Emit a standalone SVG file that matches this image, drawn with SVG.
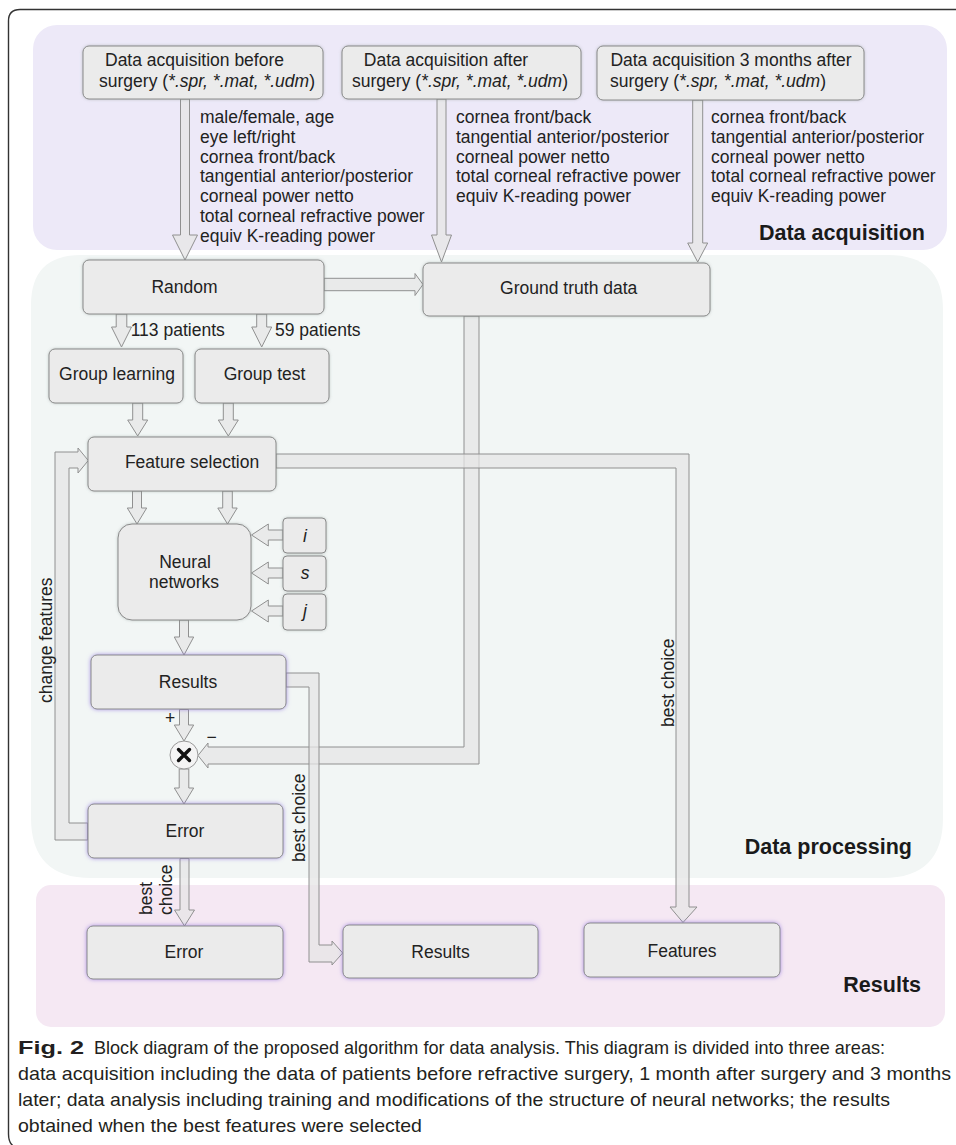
<svg xmlns="http://www.w3.org/2000/svg" width="956" height="1145" viewBox="0 0 956 1145">
<defs>
<style>
.t{font-family:"Liberation Sans",Arial,sans-serif;font-size:17.5px;fill:#222}
.c{text-anchor:middle}
.h{font-family:"Liberation Sans",Arial,sans-serif;font-weight:bold;font-size:21.5px;text-anchor:end;fill:#1a1a1a}
.box{fill:#ebebeb;stroke:#8a8a8a;stroke-width:1;filter:url(#sh)}
.gbox{fill:#ebebeb;stroke:#8a8a8a;stroke-width:1;filter:url(#glow)}
.arr{fill:#e6e6e6;fill-opacity:0.75;stroke:#909090;stroke-width:1;stroke-linejoin:miter}
.cap{font-family:"Liberation Sans Narrow","Liberation Sans",Arial,sans-serif;font-size:19px;fill:#231f20}
</style>
<filter id="sh" x="-10%" y="-20%" width="120%" height="140%">
<feDropShadow dx="0" dy="0" stdDeviation="1.5" flood-color="#7a8a88" flood-opacity="0.45"/>
</filter>
<filter id="glow" x="-10%" y="-20%" width="120%" height="140%">
<feDropShadow dx="0" dy="0" stdDeviation="2.2" flood-color="#8d6fdc" flood-opacity="0.75"/>
</filter>
</defs>
<rect width="956" height="1145" fill="#ffffff"/>
<path d="M956,9.5 H20 Q8.5,9.5 8.5,21 V1134 Q8.5,1144 15,1147" fill="none" stroke="#333" stroke-width="1.4"/>

<g id="areas">
<rect x="33" y="25" width="914" height="225" rx="24" fill="#ede9f8"/>
<path d="M81,255 H888 Q943,255 943,310 V818 Q943,878 883,878 H91 Q31,878 31,818 V305 Q31,255 81,255 Z" fill="#f2f6f5"/>
<rect x="36" y="885" width="909" height="142" rx="15" fill="#f5e8f3"/>
<text class="h" x="925" y="240">Data acquisition</text>
<text class="h" x="912" y="854">Data processing</text>
<text class="h" x="921" y="992">Results</text>
</g>

<g id="connectors">
<path class="arr" d="M180.5,99 V235 H172.5 L185,260 L197.5,235 H189.5 V99 Z"/>
<path class="arr" d="M437,99 V235 H431.5 L441.5,262 L451.5,235 H446 V99 Z"/>
<path class="arr" d="M692.7,100 V243 H687.7 L697.7,262 L707.7,243 H702.7 V100 Z"/>
<path class="arr" d="M324,278.3 H415 V273.5 L423,284.5 L415,295.5 V290.7 H324 Z"/>
<path class="arr" d="M116.2,314 V327 H111.5 L121.5,347 L131.5,327 H126.8 V314 Z"/>
<path class="arr" d="M256.7,314 V327 H251.7 L261.7,347 L271.7,327 H266.7 V314 Z"/>
<path class="arr" d="M132.7,403 V420 H127.7 L137.7,436 L147.7,420 H142.7 V403 Z"/>
<path class="arr" d="M223.3,403 V420 H218.3 L228.3,436 L238.3,420 H233.3 V403 Z"/>
<path class="arr" d="M132.5,491 V508 H127.3 L137,524 L146.7,508 H141.5 V491 Z"/>
<path class="arr" d="M222.7,491 V508 H217.8 L227.5,524 L237.2,508 H232.3 V491 Z"/>
<path class="arr" d="M283,530 H268.3 V524 L251.5,535 L268.3,546 V540 H283 Z"/>
<path class="arr" d="M283,568 H268.3 V562 L251.5,573 L268.3,584 V578 H283 Z"/>
<path class="arr" d="M283,606 H268.3 V600 L251.5,611 L268.3,622 V616 H283 Z"/>
<path class="arr" d="M179.5,620 V637 H174.3 L184,655 L193.7,637 H188.5 V620 Z"/>
<path class="arr" d="M179.5,709.5 V725 H174.3 L184,741 L193.7,725 H188.5 V709.5 Z"/>
<path class="arr" d="M179.2,769 V788 H174.3 L184,804 L193.7,788 H188.8 V769 Z"/>
<path class="arr" d="M180,858.5 V910 H174.5 L184.5,926 L194.5,910 H189 V858.5 Z"/>
<path class="arr" d="M464,316 V747 H208 V743 L198,755.5 L208,768 V764 H479 V316 Z"/>
<path class="arr" d="M276,454 H689 V907 H697 L683,922.5 L670,907 H676 V468 H276 Z"/>
<path class="arr" d="M286,673 H319 V945 H332 V941 L342.7,953 L332,965 V962 H309 V687 H286 Z"/>
<path class="arr" d="M87.7,840 H55 V452 H78 V448 L88.3,460.5 L78,473 V468 H69 V823 H87.7 Z"/>
<text class="t" x="130.7" y="336">113 patients</text>
<text class="t" x="275" y="336">59 patients</text>
<text class="t" transform="translate(52,703) rotate(-90)">change features</text>
<text class="t" transform="translate(674,727) rotate(-90)">best choice</text>
<text class="t" transform="translate(305,862) rotate(-90)">best choice</text>
<text class="t" transform="translate(152,915) rotate(-90)">best</text>
<text class="t" transform="translate(172,915) rotate(-90)">choice</text>
<text class="t c" x="170" y="724">+</text>
<text class="t c" x="211.5" y="742.5">−</text>
</g>

<g id="acq-before">
<rect class="box" x="83" y="46" width="240" height="53" rx="6"/>
<text class="t c" x="194.5" y="66">Data acquisition before</text>
<text class="t c" x="207" y="87">surgery (<tspan font-style="italic">*.spr, *.mat, *.udm</tspan>)</text>
<text class="t" x="200" y="123"><tspan x="200" dy="0">male/female,  age</tspan><tspan x="200" dy="19.8">eye left/right</tspan><tspan x="200" dy="19.8">cornea front/back</tspan><tspan x="200" dy="19.8">tangential anterior/posterior</tspan><tspan x="200" dy="19.8">corneal power netto</tspan><tspan x="200" dy="19.8">total corneal refractive power</tspan><tspan x="200" dy="19.8">equiv K-reading power</tspan></text>
</g>
<g id="acq-after">
<rect class="box" x="342" y="46" width="239" height="53" rx="6"/>
<text class="t c" x="446" y="66">Data acquisition after</text>
<text class="t c" x="460" y="87">surgery (<tspan font-style="italic">*.spr, *.mat, *.udm</tspan>)</text>
<text class="t" x="456" y="123"><tspan x="456" dy="0">cornea front/back</tspan><tspan x="456" dy="19.8">tangential anterior/posterior</tspan><tspan x="456" dy="19.8">corneal power netto</tspan><tspan x="456" dy="19.8">total corneal refractive power</tspan><tspan x="456" dy="19.8">equiv K-reading power</tspan></text>
</g>
<g id="acq-3months">
<rect class="box" x="597" y="46" width="267" height="54" rx="6"/>
<text class="t c" x="731" y="66">Data acquisition 3 months after</text>
<text class="t c" x="718" y="87">surgery (<tspan font-style="italic">*.spr, *.mat, *.udm</tspan>)</text>
<text class="t" x="711" y="123"><tspan x="711" dy="0">cornea front/back</tspan><tspan x="711" dy="19.8">tangential anterior/posterior</tspan><tspan x="711" dy="19.8">corneal power netto</tspan><tspan x="711" dy="19.8">total corneal refractive power</tspan><tspan x="711" dy="19.8">equiv K-reading power</tspan></text>
</g>

<g id="random">
<rect class="box" x="83" y="260" width="241" height="54" rx="6"/>
<text class="t c" x="184.5" y="293">Random</text>
</g>
<g id="ground-truth">
<rect class="box" x="423" y="263" width="287" height="53" rx="6"/>
<text class="t c" x="568.7" y="294">Ground truth data</text>
</g>
<g id="group-learning">
<rect class="box" x="49" y="349" width="134" height="54" rx="6"/>
<text class="t c" x="117" y="380">Group learning</text>
</g>
<g id="group-test">
<rect class="box" x="195" y="349" width="134" height="54" rx="6"/>
<text class="t c" x="264.5" y="380">Group test</text>
</g>
<g id="feature-selection">
<rect class="box" x="88" y="437" width="188" height="54" rx="6"/>
<text class="t c" x="192" y="468">Feature selection</text>
</g>
<g id="neural-networks">
<rect class="box" x="118" y="524" width="133" height="96" rx="14"/>
<text class="t c" x="185" y="568">Neural</text>
<text class="t c" x="184" y="588">networks</text>
</g>
<g id="param-i">
<rect class="box" x="283" y="518" width="43" height="35" rx="4"/>
<text class="t c" x="305" y="542" font-style="italic">i</text>
</g>
<g id="param-s">
<rect class="box" x="283" y="556" width="43" height="35" rx="4"/>
<text class="t c" x="305" y="578.5" font-style="italic">s</text>
</g>
<g id="param-j">
<rect class="box" x="283" y="594" width="43" height="36" rx="4"/>
<text class="t c" x="305" y="616.5" font-style="italic">j</text>
</g>
<g id="results-proc">
<rect class="gbox" x="91" y="655" width="195" height="54" rx="6"/>
<text class="t c" x="188" y="688">Results</text>
</g>
<g id="multiply">
<circle cx="184" cy="755" r="14" fill="#f4f4f4" stroke="#999" stroke-width="1"/>
<path d="M178.5,749.5 L189.5,760.5 M189.5,749.5 L178.5,760.5" stroke="#111" stroke-width="3.4" stroke-linecap="round"/>
</g>
<g id="error-proc">
<rect class="gbox" x="88" y="804" width="195" height="54" rx="6"/>
<text class="t c" x="185" y="837">Error</text>
</g>
<g id="error-result">
<rect class="gbox" x="87" y="926" width="196" height="53" rx="6"/>
<text class="t c" x="184" y="958">Error</text>
</g>
<g id="results-result">
<rect class="gbox" x="343" y="925" width="195" height="53" rx="6"/>
<text class="t c" x="440.5" y="958">Results</text>
</g>
<g id="features-result">
<rect class="gbox" x="584" y="923" width="196" height="54" rx="6"/>
<text class="t c" x="682" y="957">Features</text>
</g>

<g id="caption">
<text class="cap" x="18" y="1054" font-weight="bold" textLength="66" lengthAdjust="spacingAndGlyphs">Fig. 2</text>
<text class="cap" x="94" y="1054" textLength="791" lengthAdjust="spacingAndGlyphs">Block diagram of the proposed algorithm for data analysis. This diagram is divided into three areas:</text>
<text class="cap" x="18" y="1080" textLength="933" lengthAdjust="spacingAndGlyphs">data acquisition including the data of patients before refractive surgery, 1 month after surgery and 3 months</text>
<text class="cap" x="18" y="1106" textLength="872" lengthAdjust="spacingAndGlyphs">later; data analysis including training and modifications of the structure of neural networks; the results</text>
<text class="cap" x="18" y="1132" textLength="404" lengthAdjust="spacingAndGlyphs">obtained when the best features were selected</text>
</g>
</svg>
